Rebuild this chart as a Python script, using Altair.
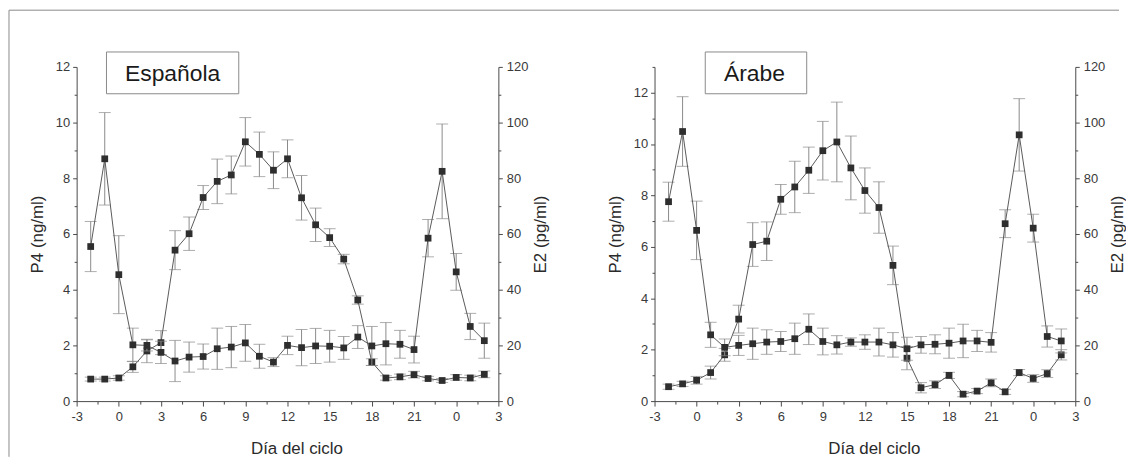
import altair as alt
import pandas as pd

# ---------------- data ----------------
days = list(range(-2, 27))  # position 24 is labelled "0", 27 is "3"

esp_p4 = [0.79, 0.79, 0.83, 1.23, 1.80, 2.10, 5.42, 6.01, 7.31, 7.89, 8.12, 9.31, 8.86, 8.29, 8.70,
          7.30, 6.33, 5.87, 5.10, 3.63, 1.40, 0.83, 0.87, 0.95, 0.81, 0.74, 0.85, 0.83, 0.96]
esp_p4_err = [0.07, 0.07, 0.08, 0.20, 0.42, 0.43, 0.70, 0.60, 0.43, 0.80, 0.68, 0.87, 0.80, 0.66, 0.68,
              0.80, 0.60, 0.32, 0.17, 0.15, 0.12, 0.08, 0.10, 0.12, 0.08, 0.07, 0.10, 0.10, 0.12]
esp_e2 = [55.5, 87.0, 45.4, 20.2, 20.0, 17.5, 14.4, 15.8, 16.0, 18.8, 19.4, 20.9, 16.1, 14.0, 20.0,
          19.2, 19.8, 19.7, 19.1, 23.0, 19.8, 20.6, 20.4, 18.5, 58.5, 82.5, 46.4, 26.8, 21.7]
esp_e2_err = [9.0, 16.6, 14.0, 6.0, 2.0, 4.0, 7.4, 5.4, 4.5, 7.4, 7.4, 6.6, 4.3, 1.6, 3.3,
              6.5, 6.3, 5.7, 4.1, 4.1, 7.0, 7.6, 5.0, 4.8, 6.7, 17.0, 6.6, 4.7, 6.3]

arab_p4 = [0.56, 0.67, 0.81, 1.11, 1.80, 3.19, 6.09, 6.22, 7.85, 8.33, 8.98, 9.74, 10.08, 9.07, 8.19,
           7.53, 5.28, 1.67, 0.52, 0.64, 1.00, 0.27, 0.39, 0.71, 0.36, 1.11, 0.88, 1.07, 1.80]
arab_p4_err = [0.10, 0.10, 0.15, 0.25, 0.25, 0.54, 0.85, 0.75, 0.58, 1.00, 0.90, 1.14, 1.55, 1.24, 0.88,
               1.00, 0.75, 0.45, 0.20, 0.15, 0.12, 0.10, 0.10, 0.15, 0.10, 0.12, 0.15, 0.15, 0.20]
arab_e2 = [71.6, 96.8, 61.3, 23.8, 19.3, 20.0, 20.6, 21.2, 21.4, 22.4, 25.8, 21.4, 20.2, 21.2, 21.2,
           21.2, 20.2, 18.8, 20.2, 20.4, 20.8, 21.6, 21.6, 21.1, 63.7, 95.6, 62.1, 23.2, 21.6]
arab_e2_err = [7.0, 12.5, 10.5, 4.5, 3.0, 3.6, 5.6, 4.4, 3.6, 5.6, 5.5, 4.8, 3.3, 1.5, 2.6,
               5.0, 4.4, 4.1, 3.0, 3.4, 5.4, 6.0, 3.8, 3.5, 5.0, 13.0, 5.0, 3.8, 4.3]

x_ticks = [i * 1.5 for i in range(-2, 19)]  # -3 ... 27

# ---------------- styles ----------------
FONT = "Liberation Sans"
AX = "#4a4a4a"
LBL = "#3a3a3a"
LINE = "#5a5a5a"
ERR = "#8a8a8a"
PT = "#2e2e2e"

common = dict(grid=False, domainColor=AX, tickColor=AX, labelColor=LBL, labelFont=FONT,
              labelFontSize=13, titleFont=FONT, titleFontSize=17, titleFontWeight="normal",
              titleColor="#2a2a2a", labelFlush=False, labelOverlap=False, domainWidth=1, tickWidth=1)


def make_df(p4, p4e, e2, e2e):
    return pd.DataFrame({
        "dia": days,
        "p4": p4,
        "p4_lo": [a - b for a, b in zip(p4, p4e)],
        "p4_hi": [a + b for a, b in zip(p4, p4e)],
        "e2": e2,
        "e2_lo": [a - b for a, b in zip(e2, e2e)],
        "e2_hi": [a + b for a, b in zip(e2, e2e)],
    })


def series_layer(df, field, scale, axis, xaxis):
    base = alt.Chart(df)
    X = alt.X("dia:Q", scale=alt.Scale(domain=[-3, 27], nice=False, zero=False), axis=xaxis)
    Y = lambda f: alt.Y(f"{f}:Q", scale=scale, axis=axis)
    rule = base.mark_rule(color=ERR, strokeWidth=1).encode(x=X, y=Y(f"{field}_lo"), y2=f"{field}_hi:Q")
    cap_hi = base.mark_tick(orient="horizontal", size=12, thickness=1, color=ERR).encode(x=X, y=Y(f"{field}_hi"))
    cap_lo = base.mark_tick(orient="horizontal", size=12, thickness=1, color=ERR).encode(x=X, y=Y(f"{field}_lo"))
    line = base.mark_line(color=LINE, strokeWidth=1).encode(x=X, y=Y(field))
    pts = base.mark_square(size=46, color=PT, opacity=1).encode(x=X, y=Y(field))
    return alt.layer(rule, cap_hi, cap_lo, line, pts)


def make_panel(df, p4_max, e2_max, label, box, text_x, width, height, frame=False):
    xaxis = alt.Axis(
        values=x_ticks, title="Día del ciclo", orient="bottom",
        labelExpr="datum.value % 3 === 0 ? toString(datum.value >= 24 ? datum.value - 24 : datum.value) : ''",
        tickSize={"condition": {"test": "datum.value % 3 === 0", "value": 5}, "value": 3},
        labelPadding=5, titlePadding=17, titleX=width / 2 + 9, **common)
    p4_axis = alt.Axis(
        values=list(range(0, p4_max + 1)), title="P4 (ng/ml)", orient="left",
        labelExpr="datum.value % 2 === 0 ? datum.label : ''",
        tickSize={"condition": {"test": "datum.value % 2 === 0", "value": 4}, "value": 2.5},
        labelPadding=3, titlePadding=9, **common)
    e2_axis = alt.Axis(
        values=list(range(0, 121, 10)), title="E2 (pg/ml)", orient="right",
        labelExpr="datum.value % 20 === 0 ? datum.label : ''",
        tickSize={"condition": {"test": "datum.value % 20 === 0", "value": 4}, "value": 2.5},
        labelPadding=4, titlePadding=5, titleAngle=270, titleBaseline="top", **common)

    p4 = series_layer(df, "p4", alt.Scale(domain=[0, p4_max], nice=False), p4_axis, xaxis)
    e2 = series_layer(df, "e2", alt.Scale(domain=[0, e2_max], nice=False), e2_axis, xaxis)

    one = pd.DataFrame({"k": [0]})
    rect = alt.Chart(one).mark_rect(fill="white", stroke="#8a8a8a", strokeWidth=1).encode(
        x=alt.value(box[0]), x2=alt.value(box[1]), y=alt.value(box[2]), y2=alt.value(box[3]))
    txt = alt.Chart(one).mark_text(font=FONT, fontSize=23, color="#1a1a1a", align="center",
                                   baseline="alphabetic", text=label).encode(
        x=alt.value(text_x), y=alt.value(14))
    layers = [p4, e2, rect, txt]
    if frame:
        fl = alt.Chart(one).mark_rule(color="#8a8a8a", strokeWidth=1).encode(
            x=alt.value(-68), y=alt.value(-57), y2=alt.value(392))
        ft = alt.Chart(one).mark_rule(color="#8a8a8a", strokeWidth=1).encode(
            x=alt.value(-68), x2=alt.value(1048), y=alt.value(-57))
        layers += [fl, ft]
    return alt.layer(*layers).resolve_scale(y="independent").properties(width=width, height=height)


df_esp = make_df(esp_p4, esp_p4_err, esp_e2, esp_e2_err)
df_arab = make_df(arab_p4, arab_p4_err, arab_e2, arab_e2_err)

left = make_panel(df_esp, 12, 120, "Española", (30, 163, -15, 27), 96.5, 424, 336, frame=True)
right = make_panel(df_arab, 13, 120, "Árabe", (51, 153, -15, 27), 100.5, 423, 336)

chart = alt.hconcat(left, right, spacing=157, bounds="flush").properties(
    padding=0, background="white"
).configure_view(stroke=None)

chart.save("out.html", embed_options={"renderer": "svg", "actions": False})
